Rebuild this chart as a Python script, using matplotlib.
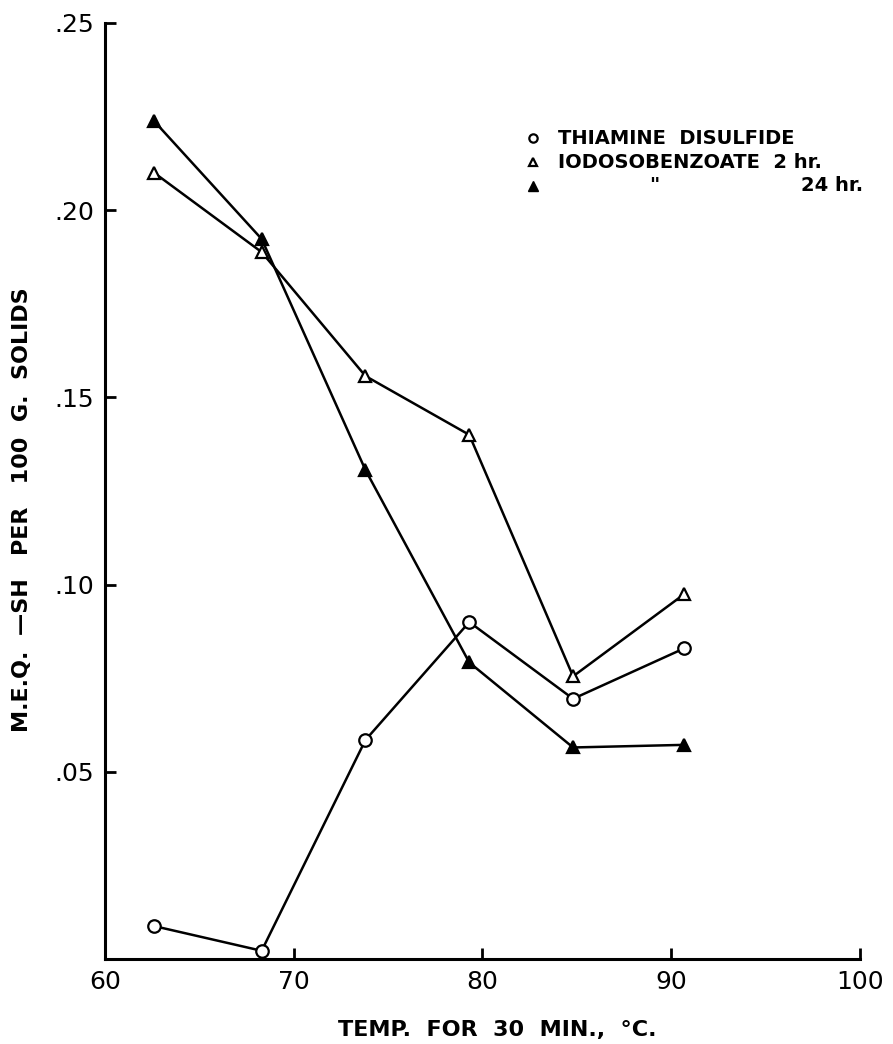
"""Sulfhydryl content vs heating temperature, redrawn with matplotlib."""

import matplotlib
matplotlib.use("Agg")
import matplotlib.pyplot as plt

# heating temperature (deg C, 30 min)
temps = [62.6, 68.3, 73.8, 79.3, 84.8, 90.7]

# m.eq. -SH per 100 g solids
thiamine = [0.0088, 0.0022, 0.0585, 0.0900, 0.0695, 0.0830]
iodo_2hr = [0.2100, 0.1888, 0.1557, 0.1400, 0.0755, 0.0975]
iodo_24hr = [0.2238, 0.1923, 0.1306, 0.0792, 0.0565, 0.0572]

x_ticks = [60, 70, 80, 90, 100]
y_ticks = [0.05, 0.10, 0.15, 0.20, 0.25]
y_labels = [".05", ".10", ".15", ".20", ".25"]

plt.rcParams["font.family"] = ["DejaVu Sans"]

fig = plt.figure(figsize=(8.93, 10.44), dpi=100)
ax = fig.add_axes([0.1176, 0.0814, 0.8454, 0.8966])

line_kw = dict(color="black", lw=1.8, ms=9, mew=1.6, clip_on=False, zorder=3)
ax.plot(temps, thiamine, marker="o", mfc="white", mec="black", **line_kw)
ax.plot(temps, iodo_2hr, marker="^", mfc="white", mec="black", **line_kw)
ax.plot(temps, iodo_24hr, marker="^", mfc="black", mec="black", **line_kw)

ax.set_xlim(60, 100)
ax.set_ylim(0, 0.25)
ax.set_xticks(x_ticks)
ax.set_xticklabels([str(t) for t in x_ticks])
ax.set_yticks(y_ticks)
ax.set_yticklabels(y_labels)

for side in ("top", "right"):
    ax.spines[side].set_visible(False)
for side in ("left", "bottom"):
    ax.spines[side].set_linewidth(2.2)
ax.tick_params(direction="in", length=8, width=2, labelsize=18, pad=8)

ax.set_xlabel("TEMP.  FOR  30  MIN.,  °C.", fontsize=16, fontweight="bold",
              va="center")
ax.xaxis.set_label_coords(0.52, -0.076)
ax.set_ylabel("M.E.Q.  —SH   PER   100  G.  SOLIDS", fontsize=16,
              fontweight="bold", va="center")
ax.yaxis.set_label_coords(-0.11, 0.48)

# hand-lettered key in the upper right
key_x, text_x = 0.567, 0.60
rows = [0.877, 0.851, 0.826]
ax.plot([key_x], [rows[0]], marker="o", ms=6, mfc="white", mec="black",
        mew=1.6, transform=ax.transAxes, clip_on=False)
ax.plot([key_x], [rows[1]], marker="^", ms=6, mfc="white", mec="black",
        mew=1.6, transform=ax.transAxes, clip_on=False)
ax.plot([key_x], [rows[2]], marker="^", ms=7, mfc="black", mec="black",
        transform=ax.transAxes, clip_on=False)
key_kw = dict(transform=ax.transAxes, fontsize=14, fontweight="bold",
              va="center")
ax.text(text_x, rows[0], "THIAMINE  DISULFIDE", **key_kw)
ax.text(text_x, rows[1], "IODOSOBENZOATE  2 hr.", **key_kw)
ax.text(0.728, rows[2], "\"", ha="center", **key_kw)
ax.text(1.004, rows[2], "24 hr.", ha="right", **key_kw)

fig.savefig("out.png", dpi=100)
